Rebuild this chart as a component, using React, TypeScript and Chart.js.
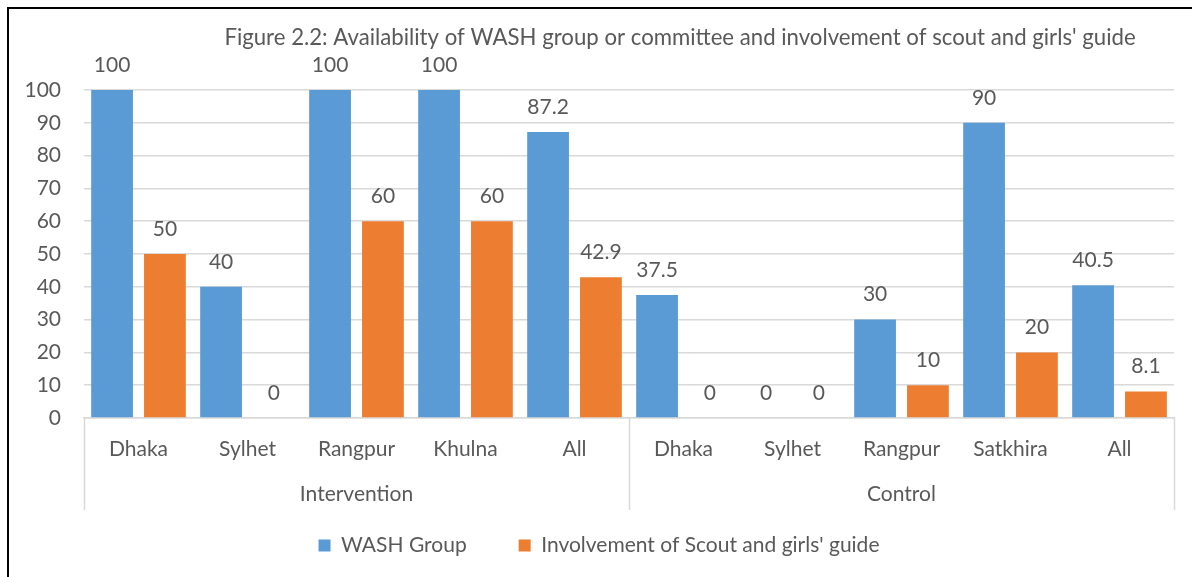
import React, { useEffect, useRef } from "react";
import { Chart, registerables } from "chart.js";

Chart.register(...registerables);

const titleText =
  "Figure 2.2: Availability of WASH group or committee and involvement of scout and girls' guide";
const categories = [
  "Dhaka", "Sylhet", "Rangpur", "Khulna", "All",
  "Dhaka", "Sylhet", "Rangpur", "Satkhira", "All",
];
const groupNames = ["Intervention", "Control"];
const groupSizes = [5, 5];
const washGroup = [100, 40, 100, 100, 87.2, 37.5, 0, 30, 90, 40.5];
const scoutGuide = [50, 0, 60, 60, 42.9, 0, 0, 10, 20, 8.1];
const seriesNames = ["WASH Group", "Involvement of Scout and girls' guide"];
const yMin = 0;
const yMax = 100;
const yStep = 10;

const FONT = "Lato";
const FONT_SIZE = 21;
const TITLE_SIZE = 22.2;
const TEXT = "#595959";
const LINE = "#d9d9d9";
const BLUE = "#5B9BD5";
const ORANGE = "#ED7D31";

const titlePlugin = {
  id: "figTitle",
  afterDraw(chart: any) {
    const ctx = chart.ctx;
    ctx.save();
    ctx.font = `${TITLE_SIZE}px ${FONT}`;
    ctx.fillStyle = TEXT;
    ctx.textAlign = "center";
    ctx.textBaseline = "middle";
    ctx.fillText(titleText, 680, 38);
    ctx.restore();
  },
};

const valueLabelPlugin = {
  id: "valueLabels",
  afterDatasetsDraw(chart: any) {
    const ctx = chart.ctx;
    ctx.save();
    ctx.font = `${FONT_SIZE}px ${FONT}`;
    ctx.fillStyle = TEXT;
    ctx.textAlign = "center";
    ctx.textBaseline = "middle";
    chart.data.datasets.forEach((ds: any, di: number) => {
      const meta = chart.getDatasetMeta(di);
      meta.data.forEach((el: any, i: number) => {
        ctx.fillText(String(ds.data[i]), el.x, el.y - 25);
      });
    });
    ctx.restore();
  },
};

const groupPlugin = {
  id: "groupAxis",
  afterDraw(chart: any) {
    const ctx = chart.ctx;
    const xs = chart.scales.x;
    const area = chart.chartArea;
    const bounds: number[] = [area.left];
    let idx = 0;
    groupSizes.forEach((n, gi) => {
      idx += n;
      if (gi < groupSizes.length - 1) {
        bounds.push((xs.getPixelForValue(idx - 1) + xs.getPixelForValue(idx)) / 2);
      }
    });
    bounds.push(area.right);
    ctx.save();
    ctx.strokeStyle = LINE;
    ctx.lineWidth = 1.5;
    bounds.forEach((b) => {
      ctx.beginPath();
      ctx.moveTo(Math.round(b) + 0.5, area.bottom);
      ctx.lineTo(Math.round(b) + 0.5, area.bottom + 92);
      ctx.stroke();
    });
    ctx.font = `${FONT_SIZE}px ${FONT}`;
    ctx.fillStyle = TEXT;
    ctx.textAlign = "center";
    ctx.textBaseline = "middle";
    groupNames.forEach((g, gi) => {
      ctx.fillText(g, (bounds[gi] + bounds[gi + 1]) / 2, area.bottom + 76);
    });
    ctx.restore();
  },
};

export default function App() {
  const ref = useRef<HTMLCanvasElement>(null);
  useEffect(() => {
    if (!ref.current) return;
    const chart = new Chart(ref.current, {
      type: "bar",
      data: {
        labels: categories,
        datasets: [
          {
            label: seriesNames[0],
            data: washGroup,
            backgroundColor: BLUE,
            categoryPercentage: 0.97,
            barPercentage: 0.79,
          },
          {
            label: seriesNames[1],
            data: scoutGuide,
            backgroundColor: ORANGE,
            categoryPercentage: 0.97,
            barPercentage: 0.79,
          },
        ],
      },
      options: {
        responsive: false,
        animation: false,
        devicePixelRatio: 1,
        layout: { padding: { left: 24, right: 18, top: 90, bottom: 11 } },
        plugins: {
          title: { display: false },
          tooltip: { enabled: false },
          legend: {
            display: true,
            position: "bottom",
            labels: {
              boxWidth: 12,
              boxHeight: 12,
              padding: 52,
              color: TEXT,
              font: { family: FONT, size: FONT_SIZE },
            },
          },
        },
        scales: {
          x: {
            grid: { display: false, drawTicks: false },
            border: { display: true, color: LINE, width: 1.5 },
            ticks: {
              color: TEXT,
              font: { family: FONT, size: FONT_SIZE },
              padding: 19,
              maxRotation: 0,
              autoSkip: false,
            },
            afterFit(scale: any) {
              scale.height = 65;
            },
          },
          y: {
            min: yMin,
            max: yMax,
            grid: { color: LINE, lineWidth: 1.5, drawTicks: false },
            border: { display: false },
            ticks: {
              stepSize: yStep,
              color: TEXT,
              font: { family: FONT, size: FONT_SIZE },
              padding: 23,
            },
            afterFit(scale: any) {
              scale.width = 60;
            },
          },
        },
      },
      plugins: [titlePlugin, valueLabelPlugin, groupPlugin],
    });
    return () => chart.destroy();
  }, []);

  return (
    <div style={{ position: "fixed", left: 0, top: 0, width: 1192, height: 577, background: "#fff" }}>
      <canvas ref={ref} width={1192} height={577} style={{ position: "absolute", left: 0, top: 0 }} />
      <div
        style={{
          position: "absolute",
          left: 7,
          top: 7,
          right: 0,
          bottom: 0,
          borderLeft: "2px solid #000",
          borderTop: "2px solid #000",
          pointerEvents: "none",
        }}
      />
    </div>
  );
}
